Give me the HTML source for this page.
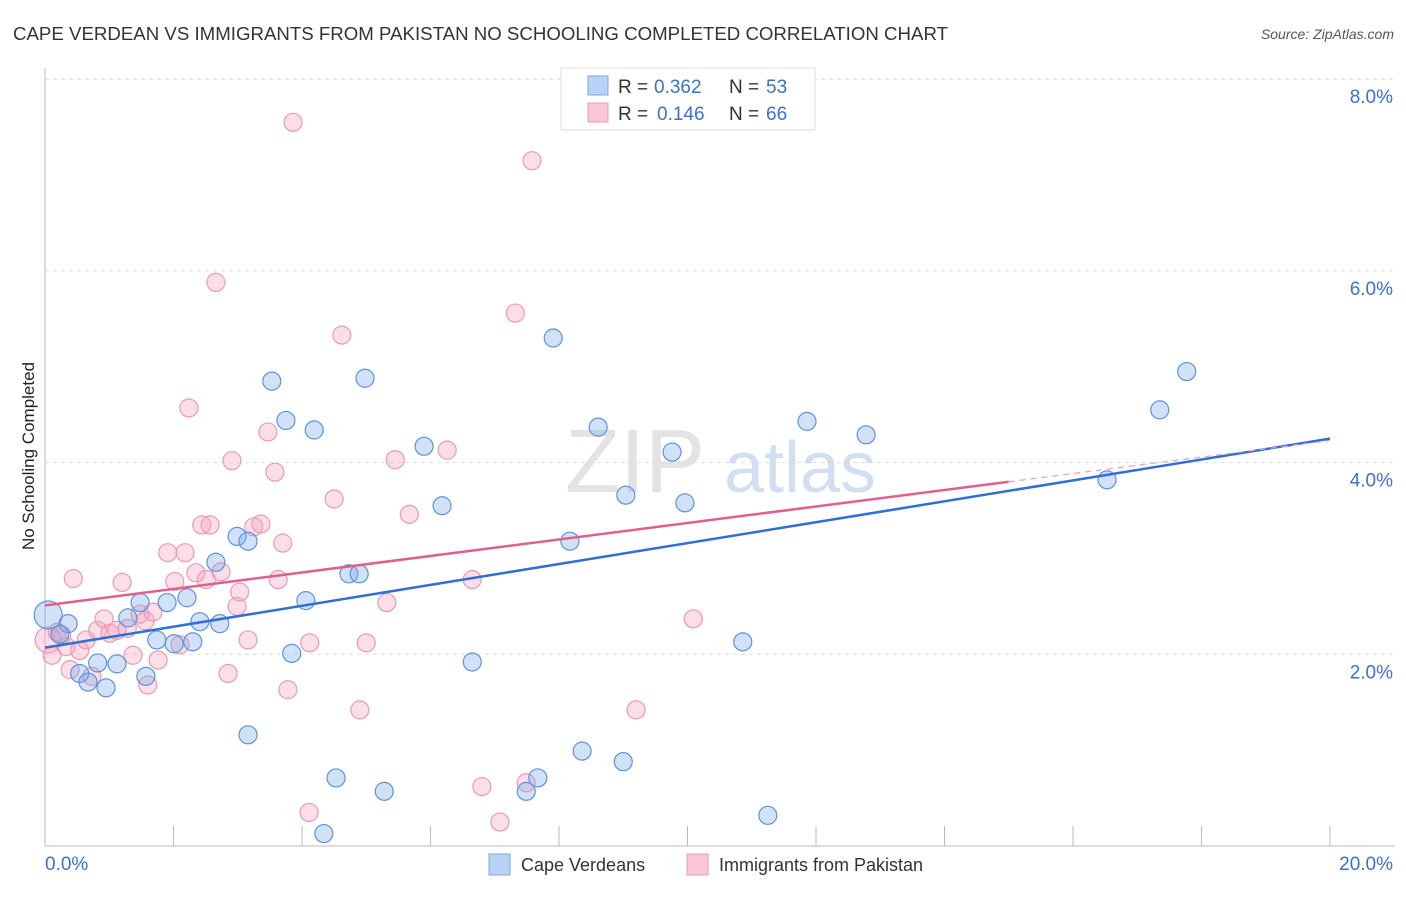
<!DOCTYPE html>
<html><head><meta charset="utf-8"><style>
body{margin:0;background:#fff;font-family:"Liberation Sans",sans-serif}
svg text{font-family:"Liberation Sans",sans-serif}
</style></head><body>
<svg id="chart" width="1406" height="892" xmlns="http://www.w3.org/2000/svg">
<text x="13" y="40" font-size="18" fill="#333" textLength="935" lengthAdjust="spacingAndGlyphs">CAPE VERDEAN VS IMMIGRANTS FROM PAKISTAN NO SCHOOLING COMPLETED CORRELATION CHART</text>
<text x="1394" y="39" font-size="14" fill="#555" font-style="italic" text-anchor="end">Source: ZipAtlas.com</text>
<text transform="translate(34,456) rotate(-90)" font-size="17" fill="#222" text-anchor="middle">No Schooling Completed</text>
<g id="grid"></g>
<g><text x="635" y="492" font-size="90" fill="#ddd" font-family="Liberation Serif" text-anchor="middle" opacity="0.8">ZIP</text><text x="800" y="492" font-size="72" fill="#c8d8ee" text-anchor="middle" opacity="0.8">atlas</text></g>
<g id="marks"></g>
<g id="lines"></g>
<g>
<rect x="561" y="68" width="254" height="62" fill="#fff" stroke="#ddd"/>
<rect x="588" y="76" width="20" height="19" fill="#b8d3f5" stroke="#7aa8e0"/>
<rect x="588" y="103" width="20" height="19" fill="#f9c6d5" stroke="#eb9ab3"/>
<text x="618" y="93" font-size="19" fill="#333">R =</text>
<text x="654" y="93" font-size="19" fill="#3a72d0">0.362</text>
<text x="729" y="93" font-size="19" fill="#333">N =</text>
<text x="766" y="93" font-size="19" fill="#3a72d0">53</text>
<text x="618" y="120" font-size="19" fill="#333">R =</text>
<text x="657" y="120" font-size="19" fill="#3a72d0">0.146</text>
<text x="729" y="120" font-size="19" fill="#333">N =</text>
<text x="766" y="120" font-size="19" fill="#3a72d0">66</text>
</g>
<g>
<rect x="489" y="854" width="21" height="21" fill="#b8d3f5" stroke="#7aa8e0"/>
<text x="521" y="871" font-size="18" fill="#333">Cape Verdeans</text>
<rect x="687" y="854" width="21" height="21" fill="#f9c6d5" stroke="#eb9ab3"/>
<text x="719" y="871" font-size="18" fill="#333">Immigrants from Pakistan</text>
</g>
</svg>
<script>
const yTicks=[2,4,6,8];
const yTickLabels=["2.0%","4.0%","6.0%","8.0%"];
const xTickLabels=["0.0%","20.0%"];
const blueX=[0.05,0.36,0.23,0.54,0.67,0.82,0.95,1.12,1.29,1.48,1.57,1.74,1.90,2.01,2.21,2.30,2.41,2.66,2.72,2.99,3.16,3.16,3.53,3.75,3.84,4.06,4.19,4.34,4.53,4.73,4.89,4.98,5.28,5.90,6.18,6.65,7.49,7.67,7.91,8.17,8.36,8.61,9.04,9.00,9.76,9.96,10.86,11.25,11.86,12.78,16.53,17.35,17.77];
const blueY=[2.41,2.32,2.21,1.80,1.71,1.91,1.65,1.90,2.38,2.54,1.77,2.15,2.54,2.11,2.59,2.13,2.34,2.96,2.32,3.23,3.18,1.16,4.85,4.44,2.01,2.56,4.34,0.13,0.71,2.84,2.84,4.88,0.57,4.17,3.55,1.92,0.57,0.71,5.30,3.18,0.99,4.37,3.66,0.88,4.11,3.58,2.13,0.32,4.43,4.29,3.82,4.55,4.95];
const pinkX=[0.05,0.11,0.26,0.19,0.33,0.44,0.39,0.54,0.64,0.73,0.82,0.92,1.01,1.12,1.20,1.28,1.37,1.48,1.56,1.60,1.68,1.76,1.91,2.02,2.10,2.18,2.24,2.35,2.44,2.51,2.57,2.66,2.74,2.85,2.91,2.99,3.03,3.16,3.25,3.36,3.47,3.58,3.63,3.70,3.78,3.86,4.11,4.12,4.50,4.62,4.90,5.00,5.32,5.45,5.67,6.26,6.65,6.80,7.08,7.32,7.49,7.58,9.20,10.09];
const pinkY=[2.15,1.99,2.20,2.23,2.08,2.79,1.84,2.04,2.15,1.77,2.25,2.37,2.22,2.25,2.75,2.27,1.99,2.42,2.35,1.68,2.44,1.94,3.06,2.76,2.10,3.06,4.57,2.85,3.35,2.78,3.35,5.88,2.86,1.80,4.02,2.50,2.65,2.15,3.33,3.36,4.32,3.90,2.78,3.16,1.63,7.55,0.35,2.12,3.62,5.33,1.42,2.12,2.54,4.03,3.46,4.13,2.78,0.62,0.25,5.56,0.66,7.15,1.42,2.37];
const blueLine=[2.07,4.25];
const pinkLine=[2.51,4.23];
const pinkSolidEnd=15;
const NS="http://www.w3.org/2000/svg";
const X=v=>45+v/20*1285, Y=v=>846-v*95.85;
function mk(tag,attrs,parent){const e=document.createElementNS(NS,tag);for(const k in attrs)e.setAttribute(k,attrs[k]);parent.appendChild(e);return e;}
const grid=document.getElementById('grid');
const ax=mk('line',{x1:45,y1:68,x2:45,y2:846,stroke:'#bbb'},grid);


const bx=mk('line',{x1:45,y1:846,x2:1395,y2:846,stroke:'#bbb'},grid);


yTicks.forEach((t,i)=>{
 const g=mk('line',{x1:45,y1:Y(t),x2:1395,y2:Y(t),stroke:'#ddd','stroke-dasharray':'4,4'},grid);
 
 
 const l=mk('text',{x:1393,y:Y(t)+24,'font-size':19,fill:'#3a72d0','text-anchor':'end'},grid);
 l.textContent=yTickLabels[i];
 
 
});
for(let v=2;v<=20;v+=2){
 const t=mk('line',{x1:X(v),y1:826,x2:X(v),y2:846,stroke:'#bbb'},grid);
 
 
}
[[0,'start',45],[20,'end',1393]].forEach((a,i)=>{
 const l=mk('text',{x:a[2],y:870,'font-size':19,fill:'#3a72d0','text-anchor':a[1]},grid);
 l.textContent=xTickLabels[i];
 
 
});
const marks=document.getElementById('marks');
function dots(xs,ys,fill,stroke,name){
 xs.forEach((x,i)=>{
  const big=i===0;
  const c=mk('circle',{cx:X(x),cy:Y(ys[i]),r:big?(name==='blue'?14:13):9,fill:fill,stroke:stroke,'stroke-width':1.2},marks);
  
  
 });
}
dots(pinkX,pinkY,'rgba(243,160,187,0.35)','#eb9ab3','pink');
dots(blueX,blueY,'rgba(120,170,235,0.35)','#5d93dc','blue');
const lines=document.getElementById('lines');
const bl=mk('line',{x1:X(0),y1:Y(blueLine[0]),x2:X(20),y2:Y(blueLine[1]),stroke:'#2f6fd6','stroke-width':2.5},lines);


const pe=pinkLine[0]+(pinkLine[1]-pinkLine[0])*pinkSolidEnd/20;
const pl=mk('line',{x1:X(0),y1:Y(pinkLine[0]),x2:X(pinkSolidEnd),y2:Y(pe),stroke:'#e0608a','stroke-width':2.5},lines);


const pd=mk('line',{x1:X(pinkSolidEnd),y1:Y(pe),x2:X(20),y2:Y(pinkLine[1]),stroke:'#e8a0b8','stroke-width':1.2,'stroke-dasharray':'6,5'},lines);


</script>
</body></html>
